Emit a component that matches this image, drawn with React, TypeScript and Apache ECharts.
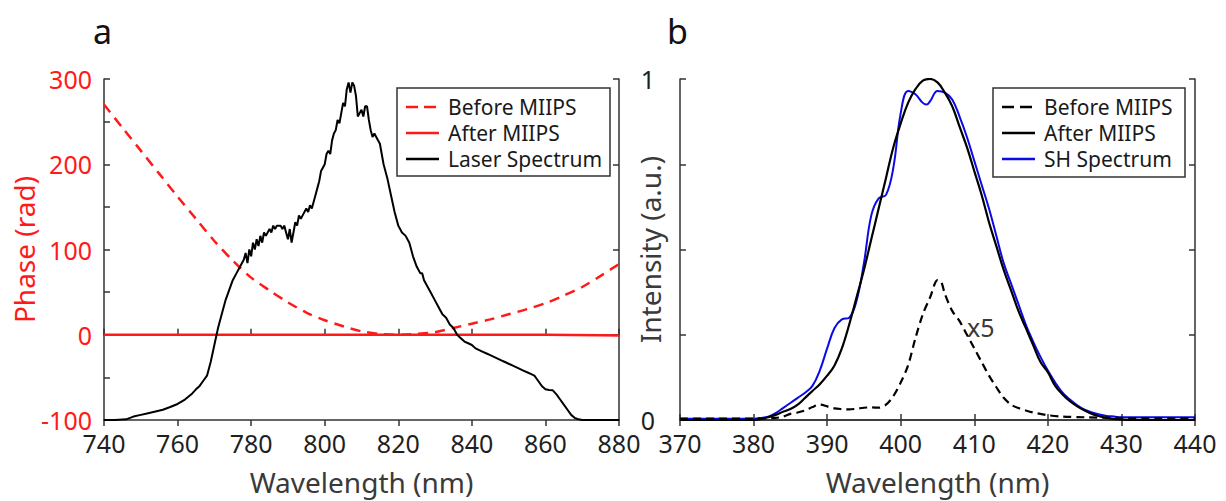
import React, { useEffect, useRef } from "react";
import * as echarts from "echarts";

// ---------- Panel a data ----------
const phaseBefore: [number, number][] = [
  [740, 270], [745, 243], [750, 216], [755, 189], [760, 162], [765, 136], [770, 110],
  [775, 87], [780, 67], [785, 52], [790, 38], [795, 26], [800, 17], [805, 10],
  [810, 4], [815, 1], [820, 0], [825, 1], [830, 3], [835, 8], [840, 13], [845, 18],
  [850, 24], [855, 30], [860, 37], [865, 46], [870, 56], [875, 69], [880, 83],
];
const phaseAfter: [number, number][] = [
  [740, 0], [760, 0], [780, 0], [800, 0], [820, 0], [840, 0], [860, 0], [875, -0.5], [880, -1],
];
const laserSpectrum: [number, number][] = [
  [740, 0], [743, 0], [746, 0.002], [748, 0.01], [750, 0.015], [752, 0.02], [754, 0.025],
  [756, 0.03], [758, 0.038], [760, 0.047], [762, 0.06], [764, 0.078], [765, 0.09],
  [766, 0.1], [767, 0.115], [768, 0.13], [769, 0.17], [770, 0.22], [771, 0.27],
  [772, 0.31], [773, 0.35], [774, 0.38], [775, 0.41], [776, 0.43], [777, 0.45],
  [778, 0.47], [778.5, 0.49], [779, 0.46], [779.5, 0.5], [780, 0.48], [780.5, 0.52],
  [781, 0.5], [781.5, 0.53], [782, 0.51], [782.5, 0.54], [783, 0.52], [783.5, 0.55],
  [784, 0.54], [785, 0.56], [785.5, 0.55], [786, 0.57], [786.5, 0.56], [787, 0.57],
  [788, 0.57], [788.5, 0.56], [789, 0.57], [789.5, 0.55], [790, 0.53], [790.5, 0.56],
  [791, 0.52], [791.5, 0.55], [792, 0.58], [792.5, 0.57], [793, 0.6], [793.5, 0.59],
  [794, 0.6], [795, 0.62], [795.5, 0.61], [796, 0.63], [796.5, 0.62], [797, 0.64],
  [797.5, 0.66], [798, 0.68], [798.5, 0.7], [799, 0.73], [799.5, 0.74], [800, 0.75],
  [800.5, 0.78], [801, 0.79], [801.5, 0.78], [802, 0.82], [802.5, 0.84], [803, 0.85],
  [803.5, 0.88], [804, 0.87], [804.5, 0.9], [805, 0.93], [805.5, 0.92], [806, 0.97],
  [806.5, 0.99], [807, 0.96], [807.5, 0.99], [808, 0.98], [808.5, 0.95], [809, 0.89],
  [809.5, 0.9], [810, 0.91], [810.5, 0.89], [811, 0.92], [811.5, 0.92], [812, 0.88],
  [812.5, 0.85], [813, 0.83], [813.5, 0.84], [814, 0.83], [815, 0.81], [815.5, 0.78],
  [816, 0.75], [817, 0.71], [818, 0.66], [819, 0.61], [820, 0.57], [820.5, 0.56],
  [821, 0.55], [822, 0.54], [823, 0.52], [823.5, 0.5], [824, 0.48], [825, 0.45],
  [826, 0.43], [826.5, 0.43], [827, 0.41], [828, 0.39], [829, 0.37], [830, 0.35],
  [831, 0.33], [832, 0.31], [833, 0.3], [834, 0.28], [835, 0.27], [836, 0.25],
  [837, 0.24], [838, 0.23], [839, 0.225], [840, 0.22], [841, 0.21], [842, 0.205],
  [843, 0.2], [844, 0.195], [845, 0.19], [846, 0.185], [847, 0.18], [848, 0.175],
  [849, 0.17], [850, 0.165], [851, 0.16], [852, 0.155], [853, 0.15], [854, 0.145],
  [855, 0.14], [856, 0.135], [857, 0.13], [858, 0.115], [859, 0.1], [860, 0.09],
  [861, 0.088], [862, 0.087], [863, 0.075], [864, 0.06], [865, 0.045], [866, 0.03],
  [867, 0.015], [868, 0.006], [869, 0.002], [870, 0], [875, 0], [880, 0],
];

// ---------- Panel b data ----------
const shBefore: [number, number][] = [
  [370, 0.004], [375, 0.004], [380, 0.004], [383, 0.006], [384, 0.01], [385, 0.018],
  [386, 0.022], [387, 0.028], [388, 0.038], [389, 0.045], [390, 0.04], [391, 0.034],
  [392, 0.032], [393, 0.031], [394, 0.033], [395, 0.036], [396, 0.037], [397, 0.036],
  [398, 0.045], [399, 0.07], [400, 0.11], [401, 0.16], [402, 0.24], [403, 0.31],
  [404, 0.36], [405, 0.41], [405.5, 0.405], [406, 0.37], [407, 0.32], [408, 0.29],
  [409, 0.25], [410, 0.21], [411, 0.17], [412, 0.13], [413, 0.096], [414, 0.065],
  [415, 0.045], [416, 0.035], [417, 0.028], [418, 0.022], [419, 0.018], [420, 0.014],
  [422, 0.01], [425, 0.008], [430, 0.006], [435, 0.005], [440, 0.005],
];
const shAfter: [number, number][] = [
  [370, 0], [375, 0], [380, 0], [381, 0.003], [382, 0.008], [383, 0.015], [384, 0.024],
  [385, 0.032], [386, 0.045], [387, 0.065], [388, 0.085], [389, 0.105], [390, 0.13],
  [391, 0.16], [392, 0.21], [393, 0.28], [394, 0.36], [395, 0.44], [396, 0.53],
  [397, 0.62], [398, 0.71], [399, 0.8], [400, 0.87], [401, 0.93], [402, 0.97],
  [403, 0.995], [404, 1.0], [405, 0.99], [406, 0.96], [407, 0.92], [408, 0.86],
  [409, 0.8], [410, 0.73], [411, 0.66], [412, 0.58], [413, 0.51], [414, 0.44],
  [415, 0.38], [416, 0.32], [417, 0.27], [418, 0.22], [419, 0.17], [420, 0.14],
  [421, 0.1], [422, 0.075], [423, 0.055], [424, 0.04], [425, 0.028], [426, 0.018],
  [427, 0.011], [428, 0.006], [429, 0.003], [430, 0.001], [435, 0], [440, 0],
];
const shSpectrum: [number, number][] = [
  [370, 0.004], [375, 0.004], [380, 0.004], [381, 0.006], [382, 0.01], [383, 0.02],
  [384, 0.035], [385, 0.05], [386, 0.065], [387, 0.08], [388, 0.1], [389, 0.145],
  [390, 0.21], [391, 0.27], [392, 0.295], [393, 0.3], [394, 0.35], [395, 0.46],
  [396, 0.6], [397, 0.65], [398, 0.66], [399, 0.74], [400, 0.9], [401, 0.965],
  [402, 0.955], [403, 0.93], [403.5, 0.925], [404, 0.935], [405, 0.965], [406, 0.96],
  [407, 0.94], [408, 0.89], [409, 0.83], [410, 0.76], [411, 0.69], [412, 0.62],
  [413, 0.54], [414, 0.46], [415, 0.4], [416, 0.34], [417, 0.28], [418, 0.23],
  [419, 0.185], [420, 0.145], [421, 0.11], [422, 0.08], [423, 0.06], [424, 0.043],
  [425, 0.03], [426, 0.022], [427, 0.016], [428, 0.012], [429, 0.01], [430, 0.008],
  [440, 0.008],
];

const legendA = ["Before MIIPS", "After MIIPS", "Laser Spectrum"];
const legendB = ["Before MIIPS", "After MIIPS", "SH Spectrum"];

const FONT = "Noto Sans";
const AX = "#333333";
const RED = "#ff1a1a";
const BLUE = "#0a0ae6";

function legendGraphic(x: number, y: number, w: number, h: number, labels: string[], styles: any[]) {
  const children: any[] = [
    { type: "rect", shape: { x: 0, y: 0, width: w, height: h }, style: { fill: "#fff", stroke: AX, lineWidth: 1.5 } },
  ];
  labels.forEach((lab, i) => {
    const ly = 19 + i * 26;
    children.push({
      type: "line",
      shape: { x1: 9, y1: ly, x2: 42, y2: ly },
      style: { stroke: styles[i].color, lineWidth: styles[i].width, lineDash: styles[i].dash },
    });
    children.push({
      type: "text",
      x: 51,
      y: ly,
      style: { text: lab, font: `21px "${FONT}"`, fill: "#1a1a1a", verticalAlign: "middle", align: "left" },
    });
  });
  return { type: "group", x, y, z: 100, children };
}

export default function App() {
  const ref = useRef<HTMLDivElement>(null);
  useEffect(() => {
    if (!ref.current) return;
    const chart = echarts.init(ref.current, undefined, { renderer: "svg" });
    const axisLine = { show: true, lineStyle: { color: AX, width: 1.5 } };
    const tick = { show: true, inside: true, length: 6, lineStyle: { color: AX, width: 1.5 } };
    const xBottom = (grid: number, min: number, max: number, interval: number) => ({
      type: "value", gridIndex: grid, position: "bottom", min, max, interval,
      axisLine, axisTick: tick, splitLine: { show: false },
      axisLabel: { color: "#1f1f1f", fontSize: 25, fontFamily: FONT, margin: 10 },
      name: "Wavelength (nm)", nameLocation: "middle", nameGap: 48, nameMoveOverlap: false,
      nameTextStyle: { color: "#3a3a3a", fontSize: 28, fontFamily: FONT },
    });
    const xTop = (grid: number, min: number, max: number, interval: number) => ({
      type: "value", gridIndex: grid, position: "top", min, max, interval,
      axisLine, axisTick: tick, splitLine: { show: false }, axisLabel: { show: false },
    });
    const yRight = (grid: number) => ({
      type: "value", gridIndex: grid, position: "right", min: 0, max: 1, interval: 0.25,
      axisLine, axisTick: tick, splitLine: { show: false }, axisLabel: { show: false },
    });
    const option: any = {
      animation: false,
      backgroundColor: "#ffffff",
      grid: [
        { left: 104, top: 79, width: 515, height: 344 },
        { left: 680, top: 79, width: 515, height: 344 },
      ],
      xAxis: [xBottom(0, 740, 880, 20), xTop(0, 740, 880, 20), xBottom(1, 370, 440, 10), xTop(1, 370, 440, 10)],
      yAxis: [
        {
          type: "value", gridIndex: 0, position: "left", min: -100, max: 300, interval: 50,
          axisLine, axisTick: tick, splitLine: { show: false },
          axisLabel: {
            color: RED, fontSize: 25, fontFamily: FONT, margin: 12,
            formatter: (v: number) => (v % 100 === 0 ? String(v) : ""),
          },
          name: "Phase (rad)", nameLocation: "middle", nameGap: 66, nameMoveOverlap: false,
          nameTextStyle: { color: RED, fontSize: 28, fontFamily: FONT },
        },
        yRight(0),
        {
          type: "value", gridIndex: 1, position: "left", min: 0, max: 1, interval: 0.25,
          axisLine, axisTick: tick, splitLine: { show: false },
          axisLabel: {
            color: "#1f1f1f", fontSize: 25, fontFamily: FONT, margin: 25,
            formatter: (v: number) => (v === 0 || v === 1 ? String(v) : ""),
          },
          name: "Intensity (a.u.)", nameLocation: "middle", nameGap: 16, nameMoveOverlap: false,
          nameTextStyle: { color: "#3a3a3a", fontSize: 28, fontFamily: FONT },
        },
        yRight(1),
      ],
      series: [
        {
          name: "Before MIIPS", type: "line", xAxisIndex: 0, yAxisIndex: 0, data: phaseBefore,
          symbol: "none", smooth: 0.3, lineStyle: { color: RED, width: 2.5, type: [10, 7] },
        },
        {
          name: "After MIIPS", type: "line", xAxisIndex: 0, yAxisIndex: 0, data: phaseAfter,
          symbol: "none", lineStyle: { color: RED, width: 2.5 },
        },
        {
          name: "Laser Spectrum", type: "line", xAxisIndex: 0, yAxisIndex: 1, data: laserSpectrum,
          symbol: "none", lineStyle: { color: "#000", width: 2 },
        },
        {
          name: "SH Spectrum", type: "line", xAxisIndex: 2, yAxisIndex: 2, data: shSpectrum,
          symbol: "none", smooth: 0.4, lineStyle: { color: BLUE, width: 2 },
        },
        {
          name: "After MIIPS b", type: "line", xAxisIndex: 2, yAxisIndex: 2, data: shAfter,
          symbol: "none", smooth: 0.4, lineStyle: { color: "#000", width: 2.2 },
        },
        {
          name: "Before MIIPS b", type: "line", xAxisIndex: 2, yAxisIndex: 2, data: shBefore,
          symbol: "none", smooth: 0.3, lineStyle: { color: "#000", width: 2.2, type: [8, 5] },
        },
      ],
      graphic: [
        { type: "text", x: 93, y: 31, style: { text: "a", font: `34px "${FONT}"`, fill: "#111", verticalAlign: "middle" } },
        { type: "text", x: 667, y: 31, style: { text: "b", font: `34px "${FONT}"`, fill: "#111", verticalAlign: "middle" } },
        { type: "text", x: 967, y: 327, style: { text: "x5", font: `25px "${FONT}"`, fill: "#3a3a3a", verticalAlign: "middle" } },
        legendGraphic(397, 88, 213, 88, legendA, [
          { color: RED, width: 2.5, dash: [12, 6] },
          { color: RED, width: 2.5, dash: null },
          { color: "#000", width: 2.5, dash: null },
        ]),
        legendGraphic(993, 88, 192, 89, legendB, [
          { color: "#000", width: 2.5, dash: [12, 6] },
          { color: "#000", width: 2.5, dash: null },
          { color: BLUE, width: 2.5, dash: null },
        ]),
      ],
    };
    chart.setOption(option);
    return () => chart.dispose();
  }, []);
  return <div ref={ref} style={{ position: "absolute", left: 0, top: 0, width: 1226, height: 501 }} />;
}
